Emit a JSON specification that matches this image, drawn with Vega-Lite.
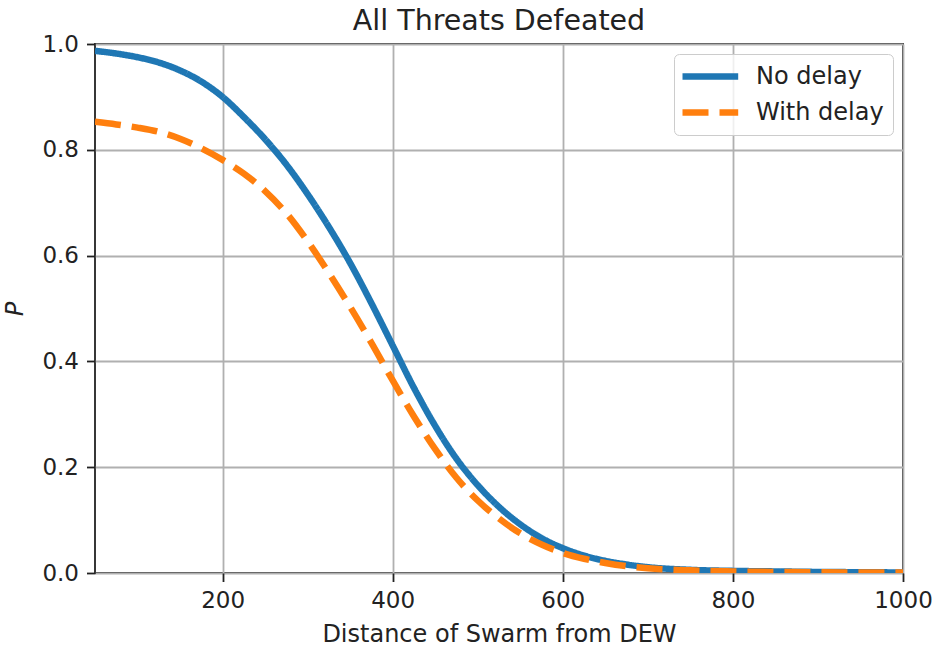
{
  "$schema": "https://vega.github.io/schema/vega-lite/v6.json",
  "width": 808,
  "height": 529,
  "autosize": {"type": "none"},
  "padding": {"left": 95, "top": 44, "right": 34, "bottom": 75},
  "background": "white",
  "title": {
    "text": "All Threats Defeated",
    "fontSize": 28.5,
    "fontWeight": "normal",
    "font": "DejaVu Sans",
    "color": "#222222",
    "offset": -2
  },
  "data": {
    "values": [
      {"distance": 50, "P": 0.987, "series": "No delay"},
      {"distance": 75, "P": 0.982, "series": "No delay"},
      {"distance": 100, "P": 0.975, "series": "No delay"},
      {"distance": 125, "P": 0.965, "series": "No delay"},
      {"distance": 150, "P": 0.950, "series": "No delay"},
      {"distance": 175, "P": 0.929, "series": "No delay"},
      {"distance": 200, "P": 0.900, "series": "No delay"},
      {"distance": 225, "P": 0.862, "series": "No delay"},
      {"distance": 250, "P": 0.820, "series": "No delay"},
      {"distance": 275, "P": 0.772, "series": "No delay"},
      {"distance": 300, "P": 0.716, "series": "No delay"},
      {"distance": 325, "P": 0.654, "series": "No delay"},
      {"distance": 350, "P": 0.586, "series": "No delay"},
      {"distance": 375, "P": 0.510, "series": "No delay"},
      {"distance": 400, "P": 0.430, "series": "No delay"},
      {"distance": 425, "P": 0.350, "series": "No delay"},
      {"distance": 450, "P": 0.278, "series": "No delay"},
      {"distance": 475, "P": 0.216, "series": "No delay"},
      {"distance": 500, "P": 0.166, "series": "No delay"},
      {"distance": 525, "P": 0.125, "series": "No delay"},
      {"distance": 550, "P": 0.092, "series": "No delay"},
      {"distance": 575, "P": 0.066, "series": "No delay"},
      {"distance": 600, "P": 0.047, "series": "No delay"},
      {"distance": 625, "P": 0.033, "series": "No delay"},
      {"distance": 650, "P": 0.023, "series": "No delay"},
      {"distance": 675, "P": 0.016, "series": "No delay"},
      {"distance": 700, "P": 0.011, "series": "No delay"},
      {"distance": 750, "P": 0.006, "series": "No delay"},
      {"distance": 800, "P": 0.004, "series": "No delay"},
      {"distance": 850, "P": 0.003, "series": "No delay"},
      {"distance": 900, "P": 0.002, "series": "No delay"},
      {"distance": 950, "P": 0.0015, "series": "No delay"},
      {"distance": 1000, "P": 0.001, "series": "No delay"},
      {"distance": 50, "P": 0.853, "series": "With delay"},
      {"distance": 75, "P": 0.848, "series": "With delay"},
      {"distance": 100, "P": 0.842, "series": "With delay"},
      {"distance": 125, "P": 0.834, "series": "With delay"},
      {"distance": 150, "P": 0.821, "series": "With delay"},
      {"distance": 175, "P": 0.803, "series": "With delay"},
      {"distance": 200, "P": 0.781, "series": "With delay"},
      {"distance": 225, "P": 0.755, "series": "With delay"},
      {"distance": 250, "P": 0.722, "series": "With delay"},
      {"distance": 275, "P": 0.680, "series": "With delay"},
      {"distance": 300, "P": 0.627, "series": "With delay"},
      {"distance": 325, "P": 0.567, "series": "With delay"},
      {"distance": 350, "P": 0.503, "series": "With delay"},
      {"distance": 375, "P": 0.435, "series": "With delay"},
      {"distance": 400, "P": 0.364, "series": "With delay"},
      {"distance": 425, "P": 0.296, "series": "With delay"},
      {"distance": 450, "P": 0.234, "series": "With delay"},
      {"distance": 475, "P": 0.180, "series": "With delay"},
      {"distance": 500, "P": 0.137, "series": "With delay"},
      {"distance": 525, "P": 0.103, "series": "With delay"},
      {"distance": 550, "P": 0.075, "series": "With delay"},
      {"distance": 575, "P": 0.054, "series": "With delay"},
      {"distance": 600, "P": 0.038, "series": "With delay"},
      {"distance": 625, "P": 0.027, "series": "With delay"},
      {"distance": 650, "P": 0.019, "series": "With delay"},
      {"distance": 675, "P": 0.013, "series": "With delay"},
      {"distance": 700, "P": 0.009, "series": "With delay"},
      {"distance": 750, "P": 0.005, "series": "With delay"},
      {"distance": 800, "P": 0.003, "series": "With delay"},
      {"distance": 850, "P": 0.002, "series": "With delay"},
      {"distance": 900, "P": 0.0015, "series": "With delay"},
      {"distance": 950, "P": 0.001, "series": "With delay"},
      {"distance": 1000, "P": 0.001, "series": "With delay"}
    ]
  },
  "mark": {"type": "line", "strokeWidth": 6.5, "clip": true, "interpolate": "monotone"},
  "encoding": {
    "x": {
      "field": "distance",
      "type": "quantitative",
      "scale": {"domain": [50, 1000], "nice": false, "zero": false},
      "axis": {
        "title": "Distance of Swarm from DEW",
        "values": [200, 400, 600, 800, 1000],
        "format": "d",
        "titlePadding": 10
      }
    },
    "y": {
      "field": "P",
      "type": "quantitative",
      "scale": {"domain": [0, 1], "nice": false},
      "axis": {
        "title": "P",
        "titleFontStyle": "italic",
        "values": [0, 0.2, 0.4, 0.6, 0.8, 1.0],
        "format": ".1f",
        "titlePadding": 14
      }
    },
    "color": {
      "field": "series",
      "type": "nominal",
      "scale": {"domain": ["No delay", "With delay"], "range": ["#1f77b4", "#ff7f0e"]},
      "legend": {"title": null}
    },
    "strokeDash": {
      "field": "series",
      "type": "nominal",
      "scale": {"domain": ["No delay", "With delay"], "range": [[1, 0], [26, 11]]},
      "legend": {"title": null}
    }
  },
  "config": {
    "font": "DejaVu Sans",
    "view": {"stroke": "#222222", "strokeWidth": 1.8},
    "axis": {
      "domain": false,
      "grid": true,
      "gridColor": "#b0b0b0",
      "gridWidth": 1.8,
      "gridOpacity": 1,
      "ticks": true,
      "tickColor": "#222222",
      "tickWidth": 1.8,
      "tickSize": 8.5,
      "labelFont": "DejaVu Sans",
      "labelFontSize": 23,
      "labelColor": "#222222",
      "labelPadding": 8,
      "labelFlush": false,
      "labelOverlap": false,
      "titleFont": "DejaVu Sans",
      "titleFontSize": 24,
      "titleFontWeight": "normal",
      "titleColor": "#222222"
    },
    "legend": {
      "orient": "top-right",
      "offset": 10,
      "padding": 9,
      "strokeColor": "#cccccc",
      "fillColor": "rgba(255,255,255,0.8)",
      "cornerRadius": 5,
      "symbolType": "M-1.4,0H4.17",
      "symbolSize": 400,
      "symbolStrokeWidth": 6.5,
      "labelFont": "DejaVu Sans",
      "labelFontSize": 24,
      "labelColor": "#222222",
      "labelOffset": 46,
      "rowPadding": 9
    }
  }
}
